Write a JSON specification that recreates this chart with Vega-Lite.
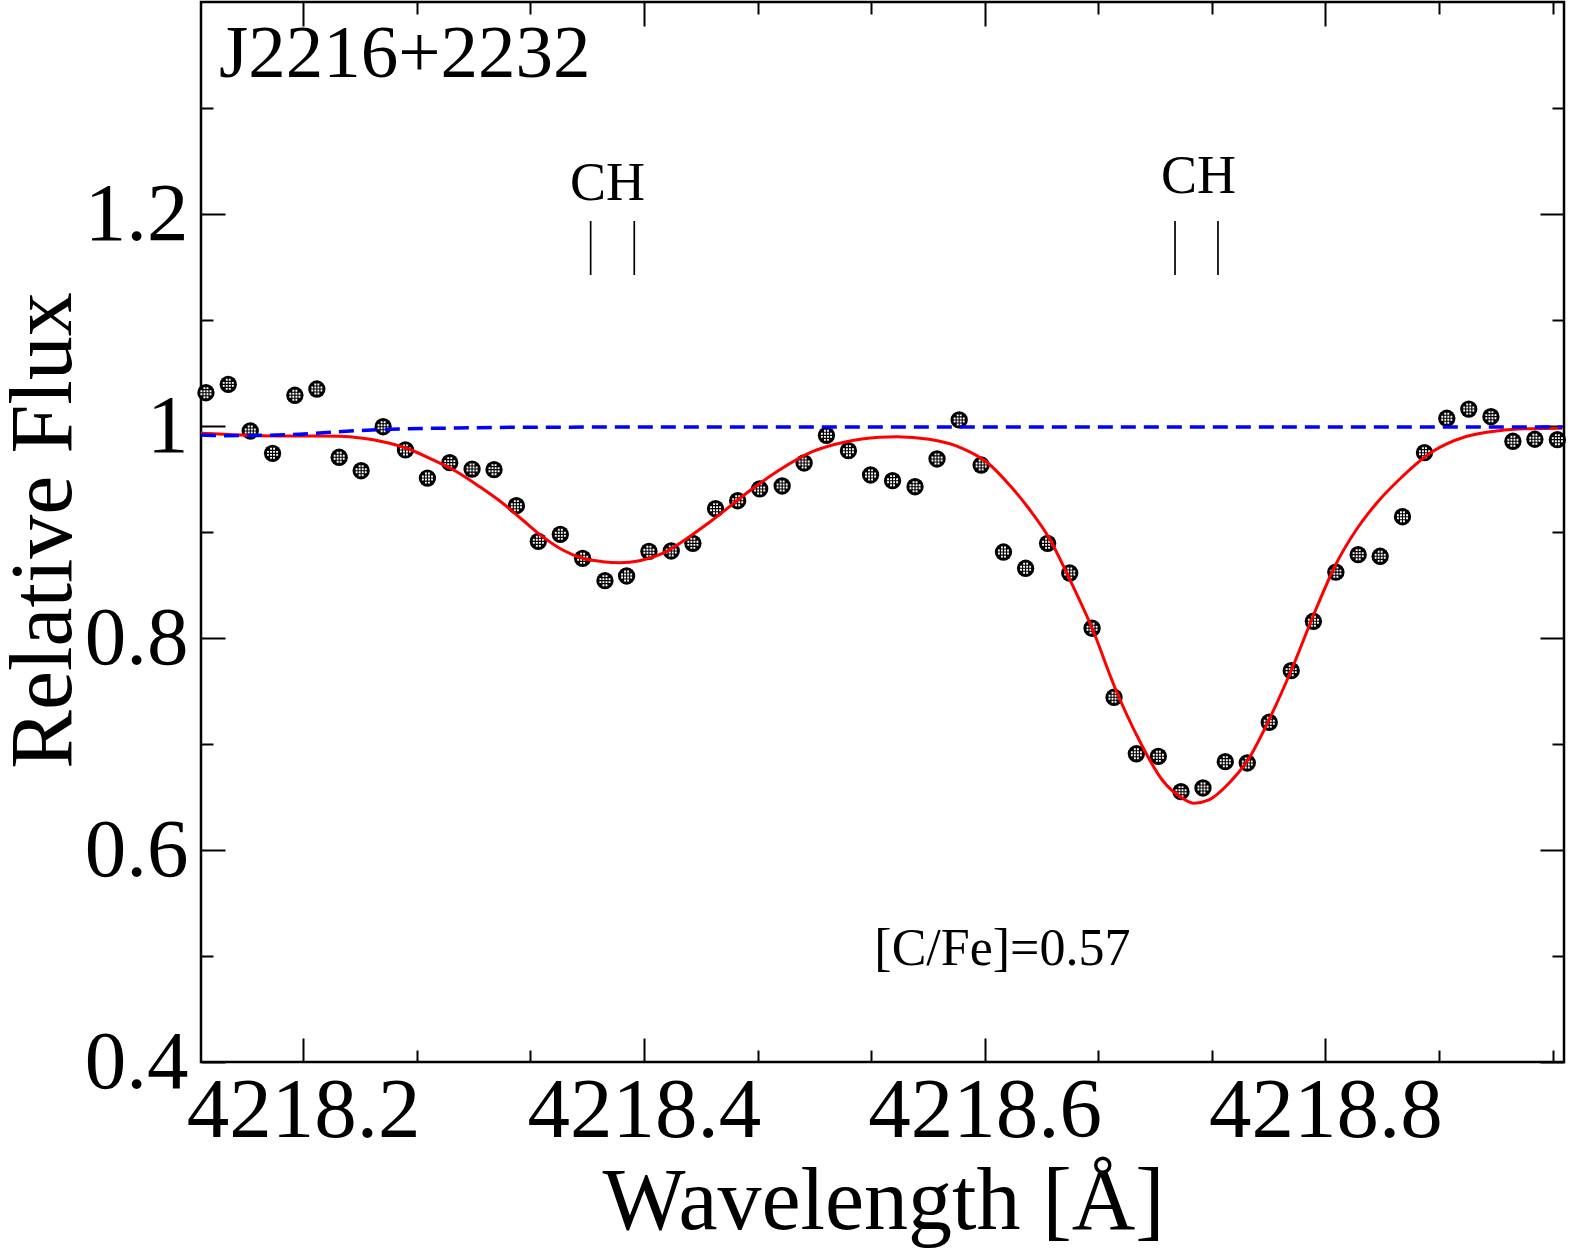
{
  "$schema": "https://vega.github.io/schema/vega-lite/v6.json",
  "width": 1363,
  "height": 1060,
  "autosize": "none",
  "padding": {"left": 201, "top": 2, "right": 7, "bottom": 193},
  "background": "white",
  "config": {
    "view": {"stroke": "black", "strokeWidth": 2.5},
    "font": "Liberation Serif",
    "axis": {"grid": false, "domain": false, "tickColor": "black", "tickWidth": 2, "labelColor": "black", "titleColor": "black", "labelFont": "Liberation Serif", "titleFont": "Liberation Serif", "labelFlush": false, "labelOverlap": false, "labelLimit": 0, "titleLimit": 0, "titleFontWeight": "normal"}
  },
  "datasets": {
    "obs": [
      {"wl": 4218.1429, "flux": 1.0314}, {"wl": 4218.1560, "flux": 1.0393}, {"wl": 4218.1689, "flux": 0.9953},
      {"wl": 4218.1820, "flux": 0.9742}, {"wl": 4218.1951, "flux": 1.0290}, {"wl": 4218.2080, "flux": 1.0349},
      {"wl": 4218.2211, "flux": 0.9705}, {"wl": 4218.2340, "flux": 0.9578}, {"wl": 4218.2469, "flux": 0.9993},
      {"wl": 4218.2600, "flux": 0.9774}, {"wl": 4218.2729, "flux": 0.9509}, {"wl": 4218.2860, "flux": 0.9654},
      {"wl": 4218.2991, "flux": 0.9594}, {"wl": 4218.3120, "flux": 0.9588}, {"wl": 4218.3251, "flux": 0.9248},
      {"wl": 4218.3380, "flux": 0.8912}, {"wl": 4218.3509, "flux": 0.8978}, {"wl": 4218.3640, "flux": 0.8752},
      {"wl": 4218.3771, "flux": 0.8541}, {"wl": 4218.3898, "flux": 0.8585}, {"wl": 4218.4029, "flux": 0.8818},
      {"wl": 4218.4160, "flux": 0.8821}, {"wl": 4218.4287, "flux": 0.8893}, {"wl": 4218.4420, "flux": 0.9220},
      {"wl": 4218.4550, "flux": 0.9295}, {"wl": 4218.4679, "flux": 0.9406}, {"wl": 4218.4811, "flux": 0.9434},
      {"wl": 4218.4940, "flux": 0.9651}, {"wl": 4218.5071, "flux": 0.9912}, {"wl": 4218.5200, "flux": 0.9767},
      {"wl": 4218.5330, "flux": 0.9538}, {"wl": 4218.5459, "flux": 0.9484}, {"wl": 4218.5591, "flux": 0.9427},
      {"wl": 4218.5720, "flux": 0.9689}, {"wl": 4218.5850, "flux": 1.0057}, {"wl": 4218.5979, "flux": 0.9632},
      {"wl": 4218.6110, "flux": 0.8811}, {"wl": 4218.6240, "flux": 0.8658}, {"wl": 4218.6369, "flux": 0.8893},
      {"wl": 4218.6499, "flux": 0.8613}, {"wl": 4218.6630, "flux": 0.8092}, {"wl": 4218.6759, "flux": 0.7441},
      {"wl": 4218.6890, "flux": 0.6908}, {"wl": 4218.7019, "flux": 0.6884}, {"wl": 4218.7152, "flux": 0.6550},
      {"wl": 4218.7281, "flux": 0.6585}, {"wl": 4218.7412, "flux": 0.6833}, {"wl": 4218.7541, "flux": 0.6821},
      {"wl": 4218.7670, "flux": 0.7205}, {"wl": 4218.7799, "flux": 0.7692}, {"wl": 4218.7929, "flux": 0.8158},
      {"wl": 4218.8061, "flux": 0.8621}, {"wl": 4218.8192, "flux": 0.8786}, {"wl": 4218.8321, "flux": 0.8771},
      {"wl": 4218.8452, "flux": 0.9144}, {"wl": 4218.8581, "flux": 0.9748}, {"wl": 4218.8712, "flux": 1.0073},
      {"wl": 4218.8841, "flux": 1.0160}, {"wl": 4218.8971, "flux": 1.0088}, {"wl": 4218.9100, "flux": 0.9856},
      {"wl": 4218.9229, "flux": 0.9875}, {"wl": 4218.9361, "flux": 0.9871}
    ],
    "fit": [
      {"wl": 4218.1400, "flux": 0.9931}, {"wl": 4218.1629, "flux": 0.9915}, {"wl": 4218.1922, "flux": 0.9906},
      {"wl": 4218.2215, "flux": 0.9903}, {"wl": 4218.2350, "flux": 0.9884}, {"wl": 4218.2467, "flux": 0.9852},
      {"wl": 4218.2608, "flux": 0.9790}, {"wl": 4218.2743, "flux": 0.9695}, {"wl": 4218.2901, "flux": 0.9569},
      {"wl": 4218.3036, "flux": 0.9427}, {"wl": 4218.3171, "flux": 0.9271}, {"wl": 4218.3288, "flux": 0.9113},
      {"wl": 4218.3405, "flux": 0.8956}, {"wl": 4218.3523, "flux": 0.8830}, {"wl": 4218.3640, "flux": 0.8752},
      {"wl": 4218.3757, "flux": 0.8720}, {"wl": 4218.3857, "flux": 0.8710}, {"wl": 4218.3974, "flux": 0.8729},
      {"wl": 4218.4109, "flux": 0.8799}, {"wl": 4218.4267, "flux": 0.8956}, {"wl": 4218.4402, "flux": 0.9113},
      {"wl": 4218.4601, "flux": 0.9365}, {"wl": 4218.4795, "flux": 0.9585}, {"wl": 4218.4988, "flux": 0.9758},
      {"wl": 4218.5188, "flux": 0.9852}, {"wl": 4218.5381, "flux": 0.9893}, {"wl": 4218.5487, "flux": 0.9899},
      {"wl": 4218.5674, "flux": 0.9875}, {"wl": 4218.5868, "flux": 0.9790}, {"wl": 4218.6009, "flux": 0.9663},
      {"wl": 4218.6161, "flux": 0.9415}, {"wl": 4218.6261, "flux": 0.9217}, {"wl": 4218.6378, "flux": 0.8943},
      {"wl": 4218.6495, "flux": 0.8566}, {"wl": 4218.6630, "flux": 0.8094}, {"wl": 4218.6765, "flux": 0.7528},
      {"wl": 4218.6906, "flux": 0.7038}, {"wl": 4218.7042, "flux": 0.6660}, {"wl": 4218.7160, "flux": 0.6488},
      {"wl": 4218.7228, "flux": 0.6441}, {"wl": 4218.7316, "flux": 0.6472}, {"wl": 4218.7433, "flux": 0.6629},
      {"wl": 4218.7551, "flux": 0.6865}, {"wl": 4218.7668, "flux": 0.7226}, {"wl": 4218.7805, "flux": 0.7717},
      {"wl": 4218.7942, "flux": 0.8264}, {"wl": 4218.8059, "flux": 0.8689}, {"wl": 4218.8172, "flux": 0.9000},
      {"wl": 4218.8301, "flux": 0.9274}, {"wl": 4218.8430, "flux": 0.9491}, {"wl": 4218.8624, "flux": 0.9755},
      {"wl": 4218.8821, "flux": 0.9899}, {"wl": 4218.9017, "flux": 0.9956}, {"wl": 4218.9210, "flux": 0.9975},
      {"wl": 4218.9390, "flux": 0.9978}
    ],
    "cont": [
      {"wl": 4218.1400, "flux": 0.9915}, {"wl": 4218.1529, "flux": 0.9909}, {"wl": 4218.1922, "flux": 0.9918},
      {"wl": 4218.2115, "flux": 0.9937}, {"wl": 4218.2315, "flux": 0.9956}, {"wl": 4218.2508, "flux": 0.9969},
      {"wl": 4218.2901, "flux": 0.9981}, {"wl": 4218.3288, "flux": 0.9988}, {"wl": 4218.4000, "flux": 0.9990},
      {"wl": 4218.6000, "flux": 0.9990}, {"wl": 4218.8000, "flux": 0.9990}, {"wl": 4218.9390, "flux": 0.9990}
    ],
    "chlines": [
      {"wl": 4218.3687, "lo": 1.1425, "hi": 1.1934}, {"wl": 4218.3943, "lo": 1.1425, "hi": 1.1934},
      {"wl": 4218.7117, "lo": 1.1425, "hi": 1.1934}, {"wl": 4218.7369, "lo": 1.1425, "hi": 1.1934}
    ],
    "chlabels": [
      {"wl": 4218.3786, "flux": 1.2132, "text": "CH"}, {"wl": 4218.7255, "flux": 1.2198, "text": "CH"}
    ],
    "star": [{"wl": 4218.1506, "flux": 1.3292, "text": "J2216+2232"}],
    "abund": [{"wl": 4218.5352, "flux": 0.4915, "text": "[C/Fe]=0.57"}]
  },
  "resolve": {"axis": {"x": "independent", "y": "independent"}},
  "layer": [
    {
      "data": {"name": "obs"},
      "mark": {"type": "point", "shape": "circle", "filled": true, "color": "black", "size": 300, "opacity": 1},
      "encoding": {
        "x": {"field": "wl", "type": "quantitative", "scale": {"domain": [4218.14, 4218.94], "nice": false, "zero": false},
          "axis": {"orient": "bottom", "values": [4218.2, 4218.4, 4218.6, 4218.8], "format": ".1f", "tickSize": -24, "labelFontSize": 85, "labelPadding": 31, "labelBaseline": "top",
            "title": "Wavelength [Å]", "titleFontSize": 88, "titleX": 682, "titleY": 166, "titleBaseline": "alphabetic", "titleAnchor": "middle", "titleAlign": "center"}},
        "y": {"field": "flux", "type": "quantitative", "scale": {"domain": [0.4, 1.4], "nice": false, "zero": false},
          "axis": {"orient": "left", "values": [0.4, 0.6, 0.8, 1.0, 1.2], "format": "~g", "tickSize": -24, "labelFontSize": 83, "labelPadding": 37, "labelBaseline": "middle",
            "title": "Relative Flux", "titleFontSize": 88, "titleX": -131, "titleY": 528, "titleBaseline": "alphabetic", "titleAngle": 270, "titleAlign": "center", "titleAnchor": "middle"}}
      }
    },
    {
      "data": {"name": "obs"},
      "mark": {"type": "point", "shape": "M-0.26,-0.58h0.2v0.2h-0.2zM0.06,-0.58h0.2v0.2h-0.2zM-0.58,-0.26h0.2v0.2h-0.2zM-0.26,-0.26h0.2v0.2h-0.2zM0.06,-0.26h0.2v0.2h-0.2zM0.38,-0.26h0.2v0.2h-0.2zM-0.58,0.06h0.2v0.2h-0.2zM-0.26,0.06h0.2v0.2h-0.2zM0.06,0.06h0.2v0.2h-0.2zM0.38,0.06h0.2v0.2h-0.2zM-0.26,0.38h0.2v0.2h-0.2zM0.06,0.38h0.2v0.2h-0.2z", "filled": true, "color": "white", "size": 360, "opacity": 1, "strokeWidth": 0},
      "encoding": {
        "x": {"field": "wl", "type": "quantitative", "scale": {"domain": [4218.14, 4218.94], "nice": false, "zero": false},
          "axis": {"orient": "top", "values": [4218.2, 4218.4, 4218.6, 4218.8], "tickSize": -24, "labels": false, "title": null}},
        "y": {"field": "flux", "type": "quantitative", "scale": {"domain": [0.4, 1.4], "nice": false, "zero": false},
          "axis": {"orient": "right", "values": [0.4, 0.6, 0.8, 1.0, 1.2], "tickSize": -24, "labels": false, "title": null}}
      }
    },
    {
      "data": {"name": "fit"},
      "mark": {"type": "line", "color": "#ff0000", "strokeWidth": 3, "interpolate": "monotone"},
      "encoding": {
        "x": {"field": "wl", "type": "quantitative", "scale": {"domain": [4218.14, 4218.94], "nice": false, "zero": false},
          "axis": {"orient": "bottom", "values": [4218.26667, 4218.33333, 4218.46667, 4218.53333, 4218.66667, 4218.73333, 4218.86667, 4218.93333], "tickSize": -12, "labels": false, "title": null}},
        "y": {"field": "flux", "type": "quantitative", "scale": {"domain": [0.4, 1.4], "nice": false, "zero": false},
          "axis": {"orient": "left", "values": [0.5, 0.7, 0.9, 1.1, 1.3], "tickSize": -12, "labels": false, "title": null}}
      }
    },
    {
      "data": {"name": "cont"},
      "mark": {"type": "line", "color": "#0000ff", "strokeWidth": 3.5, "strokeDash": [15, 8], "interpolate": "monotone"},
      "encoding": {
        "x": {"field": "wl", "type": "quantitative", "scale": {"domain": [4218.14, 4218.94], "nice": false, "zero": false},
          "axis": {"orient": "top", "values": [4218.26667, 4218.33333, 4218.46667, 4218.53333, 4218.66667, 4218.73333, 4218.86667, 4218.93333], "tickSize": -12, "labels": false, "title": null}},
        "y": {"field": "flux", "type": "quantitative", "scale": {"domain": [0.4, 1.4], "nice": false, "zero": false},
          "axis": {"orient": "right", "values": [0.5, 0.7, 0.9, 1.1, 1.3], "tickSize": -12, "labels": false, "title": null}}
      }
    },
    {
      "data": {"name": "chlines"},
      "mark": {"type": "rule", "color": "black", "strokeWidth": 1.7},
      "encoding": {
        "x": {"field": "wl", "type": "quantitative", "axis": null},
        "y": {"field": "lo", "type": "quantitative", "axis": null},
        "y2": {"field": "hi"}
      }
    },
    {
      "data": {"name": "chlabels"},
      "mark": {"type": "text", "font": "Liberation Serif", "fontSize": 54, "align": "center", "baseline": "alphabetic", "color": "black"},
      "encoding": {
        "x": {"field": "wl", "type": "quantitative", "axis": null},
        "y": {"field": "flux", "type": "quantitative", "axis": null},
        "text": {"field": "text"}
      }
    },
    {
      "data": {"name": "star"},
      "mark": {"type": "text", "font": "Liberation Serif", "fontSize": 75, "align": "left", "baseline": "alphabetic", "color": "black"},
      "encoding": {
        "x": {"field": "wl", "type": "quantitative", "axis": null},
        "y": {"field": "flux", "type": "quantitative", "axis": null},
        "text": {"field": "text"}
      }
    },
    {
      "data": {"name": "abund"},
      "mark": {"type": "text", "font": "Liberation Serif", "fontSize": 52, "align": "left", "baseline": "alphabetic", "color": "black"},
      "encoding": {
        "x": {"field": "wl", "type": "quantitative", "axis": null},
        "y": {"field": "flux", "type": "quantitative", "axis": null},
        "text": {"field": "text"}
      }
    }
  ]
}
